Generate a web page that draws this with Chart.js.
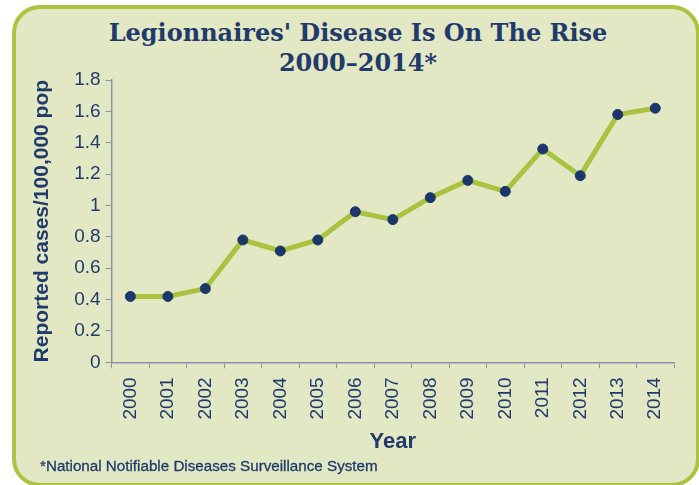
<!DOCTYPE html>
<html lang="en">
<head>
<meta charset="UTF-8">
<title>Legionnaires' Disease Is On The Rise</title>
<script src="https://cdn.jsdelivr.net/npm/chart.js"></script>
<style>
  body {
    margin: 0;
    background: #fff;
    font-family: "Liberation Sans", Arial, sans-serif;
  }
  .frame {
    position: absolute;
    left: 12px;
    top: 5px;
    width: 680px;
    height: 474px;
    border: 4px solid #acc241;
    border-radius: 28px;
    background: #e3e8c4;
  }
  .title {
    position: absolute;
    left: 0;
    width: 716px;
    top: 18px;
    text-align: center;
    font-family: "DejaVu Serif", serif;
    font-weight: bold;
    font-size: 24px;
    line-height: 30px;
    color: #1f3a6b;
  }
  #wrap {
    position: absolute;
    left: 0;
    top: 0;
    width: 699px;
    height: 485px;
  }
  .note {
    position: absolute;
    left: 40px;
    top: 457px;
    font-size: 15.2px;
    color: #1f3a6b;
    -webkit-text-stroke: 0.3px #1f3a6b;
  }
</style>
</head>
<body>
<div class="frame"></div>
<div class="title">Legionnaires' Disease Is On The Rise<br>2000–2014*</div>
<div id="wrap"><canvas id="chart"></canvas></div>
<div class="note">*National Notifiable Diseases Surveillance System</div>

<script>
  // values
  const years = ["2000", "2001", "2002", "2003", "2004", "2005", "2006", "2007",
                 "2008", "2009", "2010", "2011", "2012", "2013", "2014"];
  const casesPer100k = [0.42, 0.42, 0.47, 0.78, 0.71, 0.78, 0.96, 0.91,
                        1.05, 1.16, 1.09, 1.36, 1.19, 1.58, 1.62];

  const navy = "#1f3a6b";
  const axisGrey = "#8c90a3";

  const ctx = document.getElementById("chart").getContext("2d");

  new Chart(ctx, {
    type: "line",
    data: {
      labels: years,
      datasets: [
        {
          label: "Reported cases/100,000 pop",
          data: casesPer100k,
          borderColor: "#a9c23f",
          borderWidth: 5,
          pointBackgroundColor: "#1b3668",
          pointBorderColor: "#1b3668",
          pointRadius: 5,
          pointBorderWidth: 1,
          tension: 0,
          fill: false,
        },
      ],
    },
    options: {
      responsive: true,
      maintainAspectRatio: false,
      animation: false,
      layout: {
        padding: { top: 80, left: 30, right: 25, bottom: 30 },
      },
      plugins: {
        legend: { display: false },
        tooltip: { enabled: false },
      },
      scales: {
        x: {
          offset: true,
          grid: {
            display: true,
            drawOnChartArea: false,
            tickLength: 6,
            color: axisGrey,
            offset: true,
          },
          border: { color: axisGrey, width: 1.5 },
          ticks: {
            color: navy,
            font: { family: "Liberation Sans", size: 19 },
            minRotation: 90,
            maxRotation: 90,
            padding: 9,
          },
          title: {
            display: true,
            text: "Year",
            color: navy,
            font: { family: "Liberation Sans", size: 22, weight: "bold" },
            padding: { top: 0, bottom: 0 },
          },
        },
        y: {
          min: 0,
          max: 1.8,
          grid: {
            display: true,
            drawOnChartArea: false,
            tickLength: 6,
            color: axisGrey,
          },
          border: { color: axisGrey, width: 1.5 },
          ticks: {
            stepSize: 0.2,
            color: navy,
            font: { family: "Liberation Sans", size: 19 },
            padding: 5,
            callback: (v) => String(Number(v.toFixed(1))),
          },
          title: {
            display: true,
            text: "Reported cases/100,000 pop",
            color: navy,
            font: { family: "Liberation Sans", size: 21, weight: "bold" },
            padding: { top: 0, bottom: 14 },
          },
        },
      },
    },
  });
</script>
</body>
</html>
